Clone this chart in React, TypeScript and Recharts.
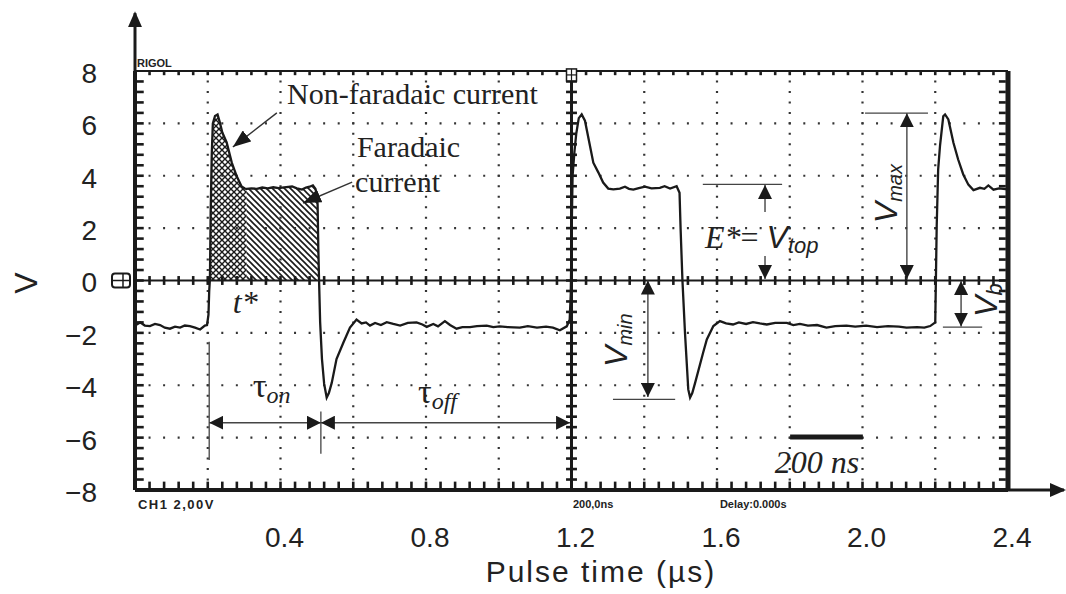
import React from "react";
import { ComposedChart, Line, Area, XAxis, YAxis, ReferenceLine, ReferenceDot } from "recharts";

// oscilloscope trace: time (µs) and voltage (V)
const traceT = [
  0.0, 0.014, 0.027, 0.041, 0.055, 0.069, 0.082, 0.096, 0.11, 0.124, 0.137, 0.151, 0.165, 0.179, 0.192, 0.198,
  0.202, 0.204, 0.206, 0.208, 0.211, 0.214, 0.22, 0.227, 0.233, 0.24, 0.252, 0.266, 0.28, 0.293, 0.302, 0.307,
  0.32, 0.335, 0.35, 0.365, 0.38, 0.395, 0.41, 0.432, 0.445, 0.459, 0.47, 0.48, 0.489, 0.496, 0.5, 0.502,
  0.504, 0.506, 0.509, 0.514, 0.52, 0.527, 0.533, 0.541, 0.554, 0.573, 0.591, 0.609, 0.623, 0.635, 0.646, 0.66,
  0.676, 0.692, 0.71, 0.729, 0.75, 0.774, 0.79, 0.802, 0.82, 0.833, 0.852, 0.866, 0.884, 0.9, 0.921, 0.94,
  0.967, 0.985, 1.003, 1.025, 1.058, 1.08, 1.105, 1.13, 1.149, 1.168, 1.187, 1.195, 1.198, 1.2, 1.203, 1.208,
  1.213, 1.22, 1.228, 1.237, 1.251, 1.26, 1.274, 1.287, 1.301, 1.315, 1.333, 1.347, 1.358, 1.37, 1.385, 1.402,
  1.42, 1.443, 1.456, 1.471, 1.489, 1.497, 1.5, 1.505, 1.512, 1.521, 1.526, 1.532, 1.54, 1.562, 1.572, 1.59,
  1.608, 1.625, 1.644, 1.66, 1.68, 1.699, 1.718, 1.737, 1.76, 1.792, 1.81, 1.828, 1.85, 1.875, 1.901, 1.925,
  1.956, 1.98, 2.01, 2.04, 2.07, 2.1, 2.121, 2.15, 2.17, 2.186, 2.2, 2.204, 2.208, 2.213, 2.222, 2.227,
  2.236, 2.25, 2.263, 2.277, 2.291, 2.305, 2.323, 2.335, 2.346, 2.36, 2.375, 2.387, 2.4,
];
const traceV = [
  -1.72, -1.6, -1.72, -1.74, -1.66, -1.7, -1.8, -1.84, -1.76, -1.8, -1.72, -1.74, -1.8, -1.87, -1.72, -1.7,
  -1.3, -0.4, 0.05, 2.6, 4.8, 6.0, 6.28, 6.34, 6.05, 5.65, 5.27, 4.5, 3.97, 3.59, 3.51, 3.5,
  3.52, 3.5, 3.55, 3.52, 3.56, 3.53, 3.56, 3.59, 3.52, 3.47, 3.55, 3.58, 3.63, 3.5, 3.3, 2.9,
  1.2, 0.0, -1.6, -3.0, -3.95, -4.47, -4.3, -3.9, -3.0, -2.37, -1.8, -1.49, -1.64, -1.6, -1.72, -1.62,
  -1.7, -1.59, -1.66, -1.72, -1.62, -1.6, -1.68, -1.77, -1.66, -1.75, -1.55, -1.7, -1.84, -1.78, -1.78, -1.74,
  -1.72, -1.78, -1.75, -1.78, -1.8, -1.74, -1.8, -1.76, -1.8, -1.9, -1.75, -1.5, -0.5, 1.5, 4.0, 4.9,
  5.6, 6.2, 6.34, 6.1, 5.13, 4.5, 4.12, 3.74, 3.51, 3.48, 3.51, 3.58, 3.5, 3.47, 3.53, 3.58,
  3.52, 3.54, 3.6, 3.51, 3.6, 3.35, 1.95, 0.0, -2.0, -4.16, -4.47, -4.3, -3.9, -2.75, -2.25, -1.74,
  -1.55, -1.64, -1.68, -1.6, -1.66, -1.59, -1.64, -1.68, -1.62, -1.62, -1.7, -1.66, -1.72, -1.7, -1.8, -1.74,
  -1.72, -1.76, -1.72, -1.78, -1.74, -1.76, -1.8, -1.78, -1.8, -1.74, -1.6, 2.07, 4.24, 5.13, 6.27, 6.34,
  6.15, 5.26, 4.62, 4.05, 3.66, 3.45, 3.54, 3.5, 3.63, 3.47, 3.52, 3.5, 3.48,
];

const xTicks = [0.4, 0.8, 1.2, 1.6, 2.0, 2.4];
const yTicks = [-8, -6, -4, -2, 0, 2, 4, 6, 8];
const gridT = [0.2, 0.4, 0.6, 0.8, 1.0, 1.4, 1.6, 1.8, 2.0, 2.2];
const gridV = [-6, -4, -2, 2, 4, 6];

// scope sub-division marks: 5 per division
const minorT = Array.from({ length: 59 }, (_, i) => +((i + 1) * 0.04).toFixed(2));
const minorV = Array.from({ length: 39 }, (_, i) => +(-7.6 + i * 0.4).toFixed(1));

// charge split of the first pulse
const pulseStart = 0.206;
const tStar = 0.307;
const pulseEnd = 0.506;

const trace = traceT.map((t, i) => ({ t, v: traceV[i] }));
const nonFaradaic = trace.filter((p) => p.t >= pulseStart && p.t <= tStar);
const faradaic = trace.filter((p) => p.t >= tStar && p.t <= pulseEnd);

const sans = "'Liberation Sans', Arial, sans-serif";
const serif = "'Liberation Serif', 'Times New Roman', serif";
const ink = "#1a1a1a";

// guide lines and arrows, in (µs, V)
const guideLines = [
  [[0.204, -2.34], [0.204, -6.85]],
  [[0.511, -5.0], [0.511, -6.62]],
  [[1.561, 3.67], [1.779, 3.67]],
  [[2.007, 6.39], [2.18, 6.39]],
  [[2.221, -1.78], [2.329, -1.78]],
  [[1.314, -4.54], [1.485, -4.54]],
];
const dimArrows = [
  { a: [0.204, -5.43], b: [0.511, -5.43], both: true },
  { a: [0.511, -5.43], b: [1.196, -5.43], both: true },
  { a: [1.732, 2.62], b: [1.732, 3.65], both: false },
  { a: [1.732, 0.94], b: [1.732, 0.06], both: false },
  { a: [2.122, 6.39], b: [2.122, 0.06], both: true },
  { a: [2.271, -0.02], b: [2.271, -1.76], both: true },
  { a: [1.41, 0.0], b: [1.41, -4.45], both: true },
];
const pointerArrows = [
  [[0.39, 6.4], [0.269, 5.1]],
  [[0.597, 3.76], [0.462, 2.96]],
];

// sub-division marks along the borders and the centre cross
const markSegments = [
  ...minorV.map((v) => [[0.005, v], [0.024, v]]),
  ...minorV.map((v) => [[2.375, v], [2.394, v]]),
  ...minorV.map((v) => [[1.185, v], [1.215, v]]),
  ...minorT.map((t) => [[t, -0.17], [t, 0.17]]),
  ...minorT.map((t) => [[t, -7.93], [t, -7.68]]),
  ...minorT.map((t) => [[t, 7.96], [t, 7.84]]),
];

const note = (key: string, t: number, v: number, draw: (cx: number, cy: number) => React.ReactElement) => (
  <ReferenceDot key={key} x={t} y={v} r={0} ifOverflow="visible" shape={(p: any) => draw(p.cx, p.cy)} />
);

const fmtY = (v: number) => String(v).replace("-", "\u2212");

export default function App() {
  return (
    <div style={{ position: "absolute", left: 0, top: 0, background: "#fff" }}>
      <ComposedChart width={1066} height={594} data={trace} margin={{ top: 71, right: 58, bottom: 4, left: 0 }}>
        <defs>
          <pattern id="crossHatch" width="6" height="6" patternUnits="userSpaceOnUse">
            <rect width="6" height="6" fill="#fff" />
            <path d="M0,0 L6,6 M6,0 L0,6" stroke={ink} strokeWidth="1.4" />
          </pattern>
          <pattern id="diagHatch" width="6" height="6" patternUnits="userSpaceOnUse">
            <rect width="6" height="6" fill="#fff" />
            <path d="M-1,-1 L7,7 M-1,5 L1,7 M5,-1 L7,1" stroke={ink} strokeWidth="1.6" />
          </pattern>
          <marker id="headBig" viewBox="0 0 18 14" markerWidth="18" markerHeight="14" refX="18" refY="7" orient="auto-start-reverse" markerUnits="userSpaceOnUse">
            <path d="M0,0 L18,7 L0,14 z" fill={ink} />
          </marker>
          <marker id="headDim" viewBox="0 0 14 14" markerWidth="14" markerHeight="14" refX="14" refY="7" orient="auto-start-reverse" markerUnits="userSpaceOnUse">
            <path d="M0,0 L14,7 L0,14 z" fill={ink} />
          </marker>
          <marker id="headAxis" viewBox="0 0 16 14" markerWidth="16" markerHeight="14" refX="14" refY="7" orient="auto" markerUnits="userSpaceOnUse">
            <path d="M0,0 L16,7 L0,14 z" fill={ink} />
          </marker>
        </defs>

        <XAxis
          type="number"
          dataKey="t"
          domain={[0, 2.4]}
          ticks={xTicks}
          interval={0}
          allowDataOverflow
          tickFormatter={(v: number) => v.toFixed(1)}
          tickLine={false}
          tickSize={0}
          tickMargin={37}
          height={100}
          axisLine={{ stroke: ink, strokeWidth: 4 }}
          tick={{ fill: "#222", fontSize: 28, fontFamily: sans, dx: 4 }}
        />
        <YAxis
          type="number"
          domain={[-8, 8]}
          ticks={yTicks}
          interval={0}
          allowDataOverflow
          tickFormatter={fmtY}
          tickLine={false}
          tickSize={0}
          tickMargin={38}
          width={135}
          axisLine={{ stroke: ink, strokeWidth: 4 }}
          tick={{ fill: "#222", fontSize: 28, fontFamily: sans, dy: 2 }}
        />

        {gridV.map((v) => (
          <ReferenceLine key={`gv${v}`} y={v} stroke="#333" strokeWidth={2.2} strokeDasharray="2 12.55" strokeDashoffset={1} />
        ))}
        {gridT.map((t) => (
          <ReferenceLine key={`gt${t}`} x={t} stroke="#333" strokeWidth={2.2} strokeDasharray="2 8.475" strokeDashoffset={1} />
        ))}
        <ReferenceLine y={0} stroke={ink} strokeWidth={2} />
        <ReferenceLine y={8} stroke={ink} strokeWidth={2} />
        <ReferenceLine x={1.2} stroke={ink} strokeWidth={3} />
        <ReferenceLine x={2.4} stroke={ink} strokeWidth={5} />

        {markSegments.map(([a, b], i) => (
          <ReferenceLine key={`mk${i}`} segment={[{ x: a[0], y: a[1] }, { x: b[0], y: b[1] }]} stroke={ink} strokeWidth={2.6} ifOverflow="visible" />
        ))}

        {/* axis arrows outside the screen */}
        <ReferenceLine segment={[{ x: 0, y: 8 }, { x: 0, y: 10.21 }]} stroke={ink} strokeWidth={3} markerEnd="url(#headAxis)" ifOverflow="visible" />
        <ReferenceLine segment={[{ x: 2.4, y: -8 }, { x: 2.554, y: -8 }]} stroke={ink} strokeWidth={3} markerEnd="url(#headAxis)" ifOverflow="visible" />

        <Area data={nonFaradaic} dataKey="v" type="linear" baseValue={0} stroke="none" fill="url(#crossHatch)" fillOpacity={1} isAnimationActive={false} />
        <Area data={faradaic} dataKey="v" type="linear" baseValue={0} stroke="none" fill="url(#diagHatch)" fillOpacity={1} isAnimationActive={false} />
        <Line dataKey="v" type="linear" stroke={ink} strokeWidth={2.3} dot={false} activeDot={false} isAnimationActive={false} />

        {guideLines.map(([a, b], i) => (
          <ReferenceLine key={`gl${i}`} segment={[{ x: a[0], y: a[1] }, { x: b[0], y: b[1] }]} stroke="#444" strokeWidth={1.3} ifOverflow="visible" />
        ))}
        {dimArrows.map((d, i) => (
          <ReferenceLine
            key={`da${i}`}
            segment={[{ x: d.a[0], y: d.a[1] }, { x: d.b[0], y: d.b[1] }]}
            stroke="#444"
            strokeWidth={1.4}
            markerStart={d.both ? "url(#headDim)" : undefined}
            markerEnd="url(#headDim)"
            ifOverflow="visible"
          />
        ))}
        {pointerArrows.map(([a, b], i) => (
          <ReferenceLine key={`pa${i}`} segment={[{ x: a[0], y: a[1] }, { x: b[0], y: b[1] }]} stroke="#333" strokeWidth={1.4} markerEnd="url(#headBig)" ifOverflow="visible" />
        ))}
        <ReferenceLine segment={[{ x: 1.801, y: -5.98 }, { x: 2.001, y: -5.98 }]} stroke={ink} strokeWidth={5} ifOverflow="visible" />

        {note("nf", 0.418, 6.73, (x, y) => (
          <text x={x} y={y} fontFamily={serif} fontSize={30} fill="#222">Non-faradaic current</text>
        ))}
        {note("f1", 0.61, 4.72, (x, y) => (
          <text x={x} y={y} fontFamily={serif} fontSize={30} fill="#222">Faradaic</text>
        ))}
        {note("f2", 0.605, 3.38, (x, y) => (
          <text x={x} y={y} fontFamily={serif} fontSize={30} fill="#222">current</text>
        ))}
        {note("ts", 0.269, -1.24, (x, y) => (
          <text x={x} y={y} fontFamily={serif} fontSize={32} fontStyle="italic" fill="#222">t*</text>
        ))}
        {note("ton", 0.324, -4.45, (x, y) => (
          <text x={x} y={y} fontFamily={serif} fontSize={34} fill="#222">
            τ<tspan fontSize={24} fontStyle="italic" dy={6}>on</tspan>
          </text>
        ))}
        {note("toff", 0.778, -4.68, (x, y) => (
          <text x={x} y={y} fontFamily={serif} fontSize={34} fill="#222">
            τ<tspan fontSize={24} fontStyle="italic" dy={6}>off</tspan>
          </text>
        ))}
        {note("et", 1.567, 1.24, (x, y) => (
          <text x={x} y={y} fontSize={32} fill="#222">
            <tspan fontFamily={serif} fontStyle="italic">E*</tspan>
            <tspan fontFamily={serif}>= </tspan>
            <tspan fontFamily={sans} fontStyle="italic">V</tspan>
            <tspan fontFamily={sans} fontStyle="italic" fontSize={22} dy={5}>top</tspan>
          </text>
        ))}
        {note("vmax", 2.095, 2.19, (x, y) => (
          <text x={x} y={y} transform={`rotate(-90 ${x} ${y})`} fontFamily={sans} fontStyle="italic" fontSize={32} fill="#222">
            V<tspan fontSize={20} dy={5}>max</tspan>
          </text>
        ))}
        {note("vmin", 1.353, -3.3, (x, y) => (
          <text x={x} y={y} transform={`rotate(-90 ${x} ${y})`} fontFamily={sans} fontStyle="italic" fontSize={32} fill="#222">
            V<tspan fontSize={20} dy={5}>min</tspan>
          </text>
        ))}
        {note("vb", 2.37, -1.39, (x, y) => (
          <text x={x} y={y} transform={`rotate(-90 ${x} ${y})`} fontFamily={sans} fontStyle="italic" fontSize={32} fill="#222">
            V<tspan fontSize={22} dy={5}>b</tspan>
          </text>
        ))}
        {note("ns", 1.759, -7.35, (x, y) => (
          <text x={x} y={y} fontFamily={serif} fontStyle="italic" fontSize={32} fill="#222">200 ns</text>
        ))}

        {/* scope screen captions */}
        {note("rigol", 0.0055, 8.15, (x, y) => (
          <text x={x} y={y} fontFamily={sans} fontWeight="bold" fontSize={11} fill="#222">RIGOL</text>
        ))}
        {note("ch1", 0.008, -8.72, (x, y) => (
          <text x={x} y={y} fontFamily={sans} fontWeight="bold" fontSize={13} letterSpacing={1.5} fill="#222">CH1 2,00V</text>
        ))}
        {note("tb", 1.204, -8.69, (x, y) => (
          <text x={x} y={y} fontFamily={sans} fontWeight="bold" fontSize={11} fill="#222">200,0ns</text>
        ))}
        {note("dl", 1.608, -8.69, (x, y) => (
          <text x={x} y={y} fontFamily={sans} fontWeight="bold" fontSize={11} fill="#222">Delay:0.000s</text>
        ))}
        {note("ch1mark", -0.0385, 0, (x, y) => (
          <g>
            <rect x={x - 9} y={y - 7} width={18} height={14} rx={3} fill="#fff" stroke={ink} strokeWidth={2} />
            <line x1={x - 9} y1={y} x2={x + 9} y2={y} stroke={ink} strokeWidth={1.5} />
            <line x1={x + 2} y1={y - 7} x2={x + 2} y2={y + 7} stroke={ink} strokeWidth={1.5} />
          </g>
        ))}
        {note("trig", 1.2, 7.85, (x, y) => (
          <g>
            <rect x={x - 5} y={y - 6} width={10} height={12} fill="#fff" stroke={ink} strokeWidth={1.5} />
            <line x1={x - 5} y1={y} x2={x + 5} y2={y} stroke={ink} strokeWidth={1.2} />
            <line x1={x} y1={y - 6} x2={x} y2={y + 6} stroke={ink} strokeWidth={1.2} />
          </g>
        ))}

        {/* axis titles */}
        {note("xt", 1.281, -11.51, (x, y) => (
          <text x={x} y={y} textAnchor="middle" fontFamily={sans} fontSize={30} letterSpacing={2} fill="#222">Pulse time (µs)</text>
        ))}
        {note("yt", -0.269, -0.095, (x, y) => (
          <text x={x} y={y} textAnchor="middle" transform={`rotate(-90 ${x} ${y})`} fontFamily={sans} fontSize={32} fill="#222">V</text>
        ))}
      </ComposedChart>
    </div>
  );
}
